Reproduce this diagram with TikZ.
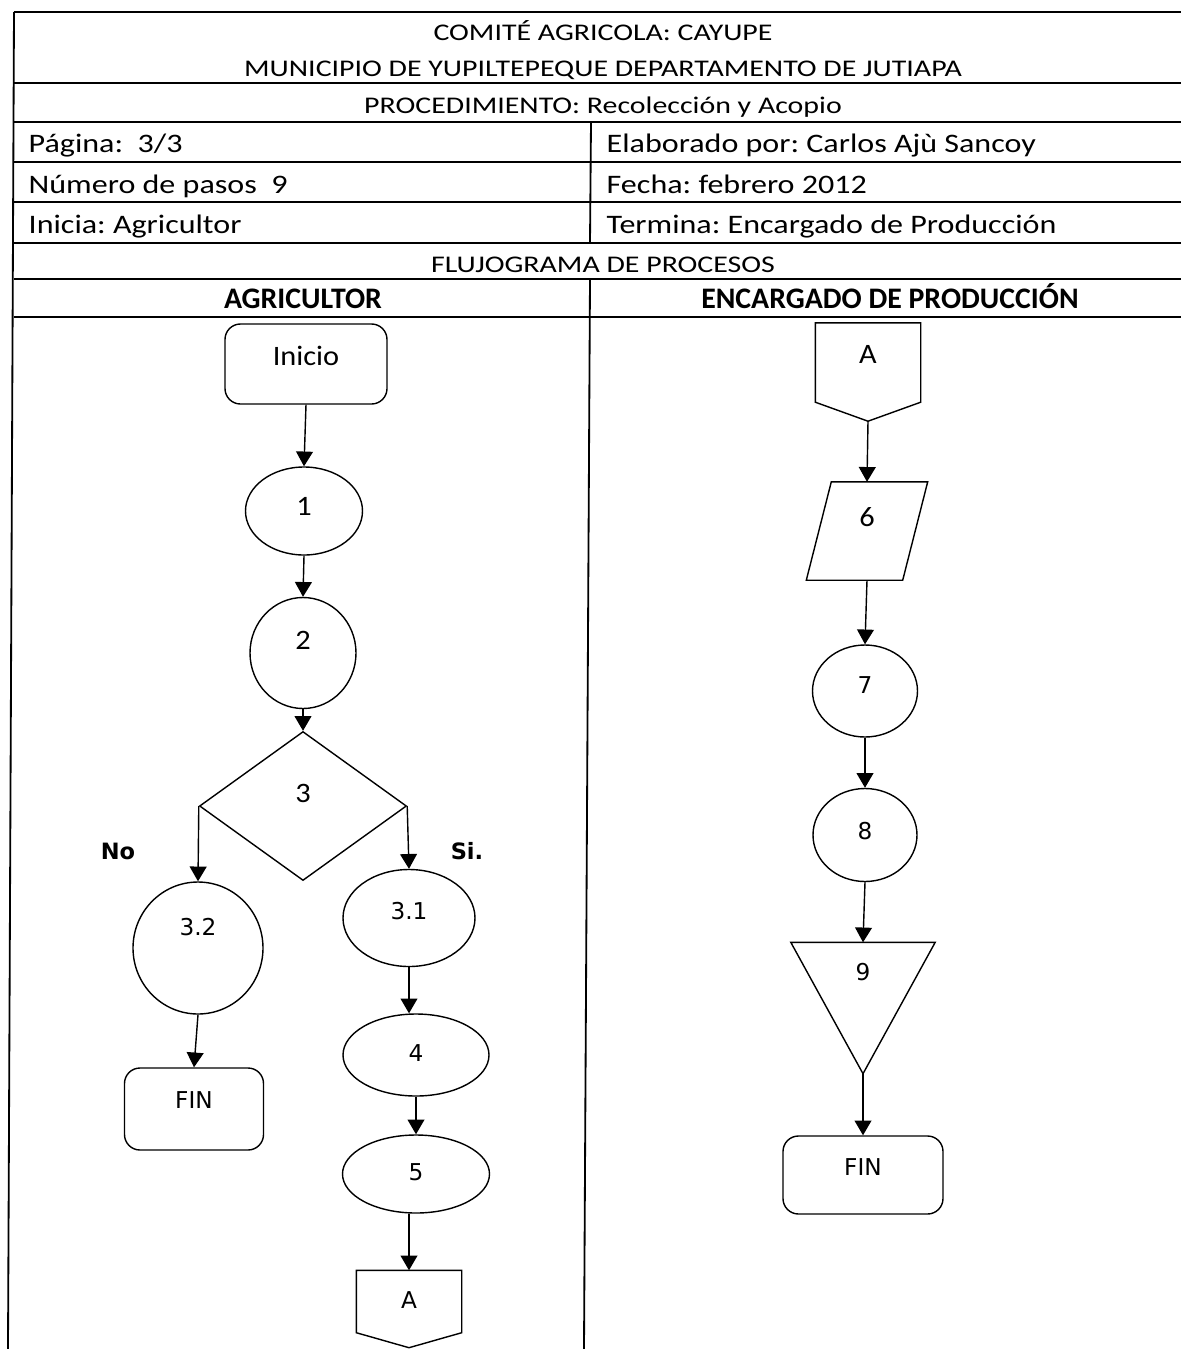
\documentclass[tikz,border=0pt]{standalone}
\usepackage{fontspec}
\setmainfont{Carlito}
\newfontfamily\titlefont{Carlito}[FakeStretch=1.25]
\newfontfamily\cellfont{Carlito}[FakeStretch=1.2]
\newfontfamily\stepfont{Carlito}[FakeStretch=1.08]
\newfontfamily\dvfont{DejaVu Sans}
\usetikzlibrary{arrows.meta, shapes.geometric, positioning}
\newcommand{\pxu}{0.025cm}
\frenchspacing

\begin{document}
\begin{tikzpicture}[x=\pxu, y=-\pxu, line width=1pt,
    grid line/.style={line width=1.3pt},
    title text/.style={font=\titlefont\fontsize{17}{20}\selectfont, anchor=base, inner sep=0pt},
    cell text/.style={font=\cellfont\fontsize{19}{22}\selectfont, anchor=base west, inner sep=0pt},
    head text/.style={font=\bfseries\fontsize{21.2}{24}\selectfont, anchor=base, inner sep=0pt},
    cal/.style={font=\stepfont\fontsize{20}{24}\selectfont, text height=12.5pt},
    dv/.style={font=\dvfont\fontsize{16.5}{20}\selectfont, text height=12pt},
    term node/.style={draw, rectangle, rounded corners=11pt, inner sep=0pt},
    step node/.style={draw, ellipse, inner sep=0pt},
    dec node/.style={draw, diamond, inner sep=0pt},
    free node/.style={rectangle, inner sep=0pt},
    answer/.style={font=\dvfont\bfseries\fontsize{16}{19}\selectfont},
    link/.style={-{Triangle[length=10.5pt,width=12pt]}, line width=1pt}]

  \useasboundingbox (0,0) rectangle (1181,1349);

  % table
  \foreach \y in {12,83,122,162,202,243,279,317}
    \draw[grid line] (14,\y) -- (1181,\y);
  \draw[grid line] (14,12) -- (8,1349);
  \draw[grid line] (591,122) -- (590,243);
  \draw[grid line] (590,279) -- (584,1349);

  \node[title text] (t1) at (603,40) {COMITÉ AGRICOLA: CAYUPE};
  \node[title text] (t2) at (603,76) {MUNICIPIO DE YUPILTEPEQUE DEPARTAMENTO DE JUTIAPA};
  \node[title text] (t3) at (603,113) {PROCEDIMIENTO: Recolección y Acopio};
  \node[cell text] (c1) at (28,152) {Página:\ \ 3/3};
  \node[cell text] (c2) at (28,193) {Número de pasos\ \ 9};
  \node[cell text] (c3) at (28,233) {Inicia: Agricultor};
  \node[cell text] (c4) at (606,152) {Elaborado por: Carlos Ajù Sancoy};
  \node[cell text] (c5) at (606,193) {Fecha: febrero 2012};
  \node[cell text] (c6) at (606,233) {Termina: Encargado de Producción};
  \node[title text] (t4) at (603,272) {FLUJOGRAMA DE PROCESOS};
  \node[head text] (h1) at (303,308) {AGRICULTOR};
  \node[head text] (h2) at (890,308) {ENCARGADO DE PRODUCCIÓN};

  % agricultor
  \node[term node, cal, text depth=10pt, minimum width=162*\pxu, minimum height=80*\pxu] (inicio) at (306,364) {Inicio};
  \node[step node, cal, text depth=5.7pt, minimum width=117*\pxu, minimum height=88*\pxu] (p1) at (304,511) {1};
  \node[step node, cal, text depth=17pt, minimum width=106*\pxu, minimum height=111*\pxu] (p2) at (303,653) {2};
  \node[dec node, cal, text depth=17pt, minimum width=207*\pxu, minimum height=149*\pxu] (p3) at (303,806) {3};
  \node[step node, dv, text depth=30pt, minimum width=130*\pxu, minimum height=132*\pxu] (p32) at (198,948) {3.2};
  \node[term node, dv, text depth=12.8pt, minimum width=139*\pxu, minimum height=82*\pxu] (fin1) at (194,1109) {FIN};
  \node[step node, dv, text depth=10pt, minimum width=132*\pxu, minimum height=97*\pxu] (p31) at (409,918) {3.1};
  \node[step node, dv, text depth=3pt, minimum width=146*\pxu, minimum height=82*\pxu] (p4) at (416,1055) {4};
  \node[step node, dv, text depth=3pt, minimum width=147*\pxu, minimum height=78*\pxu] (p5) at (416,1174) {5};
  \node[free node, dv, text depth=12.8pt, minimum width=104*\pxu, minimum height=76*\pxu] (conA) at (409,1309) {A};
  \node[answer] (no) at (118,851) {No};
  \node[answer] (si) at (467,851) {Si.};

  % encargado
  \node[free node, cal, text depth=24pt, minimum width=104*\pxu, minimum height=97*\pxu] (conB) at (868,372) {A};
  \node[free node, cal, text depth=18.5pt, minimum width=120*\pxu, minimum height=97*\pxu] (p6) at (867,531) {6};
  \node[step node, dv, text depth=8.5pt, minimum width=105*\pxu, minimum height=92*\pxu] (p7) at (865,691) {7};
  \node[step node, dv, text depth=5.7pt, minimum width=104*\pxu, minimum height=93*\pxu] (p8) at (865,835) {8};
  \node[free node, dv, text depth=51pt, minimum width=143*\pxu, minimum height=130*\pxu] (p9) at (863,1008) {9};
  \node[term node, dv, text depth=11.4pt, minimum width=160*\pxu, minimum height=78*\pxu] (fin2) at (863,1175) {FIN};

  \draw (conA.north west) -- (conA.north east) -- ([yshift=15*\pxu]conA.south east)
    -- (conA.south) -- ([yshift=15*\pxu]conA.south west) -- cycle;
  \draw (conB.north west) -- (conB.north east) -- ([yshift=19*\pxu]conB.south east)
    -- (conB.south) -- ([yshift=19*\pxu]conB.south west) -- cycle;
  \draw ([xshift=25*\pxu]p6.north west) -- (p6.north east)
    -- ([xshift=-25*\pxu]p6.south east) -- (p6.south west) -- cycle;
  \draw (p9.north west) -- (p9.north east) -- (p9.south) -- cycle;

  \foreach \a/\b in {inicio/p1, p1/p2, p2/p3, p32/fin1, p4/p5,
                     conB/p6, p6/p7, p7/p8, p8/p9, p9/fin2}
    \draw[link] (\a.south) -- (\b.north);
  \draw[link] (p31.south) -- (p31.south |- p4.north);
  \draw[link] (conA.north |- p5.south) -- (conA.north);
  \draw[link] (p3.west) -- (p32.north);
  \draw[link] (p3.east) -- (p31.north);
\end{tikzpicture}
\end{document}
